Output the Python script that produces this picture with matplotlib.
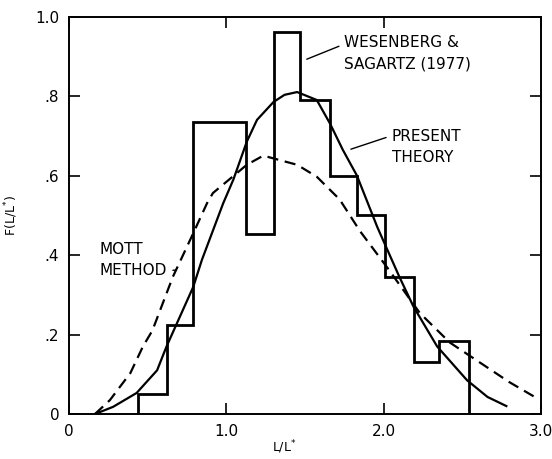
import numpy as np
import matplotlib.pyplot as plt

plt.rcParams['font.family'] = ['Liberation Sans Narrow', 'DejaVu Sans']

# Wesenberg & Sagartz (1977) histogram
bin_edges = [0.44, 0.62, 0.79, 1.125, 1.30, 1.47, 1.66, 1.83, 2.01, 2.19, 2.35, 2.54]
bin_heights = [0.05, 0.224, 0.735, 0.453, 0.96, 0.79, 0.60, 0.50, 0.345, 0.131, 0.184]

# present theory (solid)
theory_x = [0.165, 0.28, 0.43, 0.56, 0.62, 0.79, 0.845, 0.98, 1.045, 1.13, 1.195, 1.30,
            1.37, 1.45, 1.575, 1.66, 1.74, 1.83, 1.96, 2.10, 2.19, 2.34, 2.53, 2.66, 2.78]
theory_y = [0.0, 0.018, 0.053, 0.11, 0.17, 0.32, 0.388, 0.53, 0.59, 0.685, 0.74, 0.785,
            0.803, 0.81, 0.79, 0.73, 0.665, 0.60, 0.47, 0.345, 0.27, 0.17, 0.085, 0.043, 0.02]

# Mott method (dashed)
mott_x = [0.165, 0.26, 0.39, 0.47, 0.53, 0.66, 0.79, 0.877, 0.915, 1.07, 1.13, 1.235,
          1.45, 1.575, 1.72, 1.85, 2.02, 2.23, 2.42, 2.61, 2.80, 2.96]
mott_y = [0.0, 0.035, 0.103, 0.17, 0.21, 0.345, 0.455, 0.53, 0.556, 0.607, 0.627, 0.65,
          0.627, 0.597, 0.54, 0.46, 0.37, 0.254, 0.18, 0.13, 0.08, 0.043]

x_ticks = [0, 1.0, 2.0, 3.0]
x_labels = ['0', '1.0', '2.0', '3.0']
y_ticks = [0, 0.2, 0.4, 0.6, 0.8, 1.0]
y_labels = ['0', '.2', '.4', '.6', '.8', '1.0']

fig = plt.figure(figsize=(5.52, 4.59), dpi=100)
ax = fig.add_axes([0.125, 0.098, 0.855, 0.866])

ax.stairs(bin_heights, bin_edges, baseline=0, color='black', lw=2.0)
ax.plot(theory_x, theory_y, color='black', lw=1.6, solid_joinstyle='round')
ax.plot(mott_x, mott_y, color='black', lw=1.6, dashes=(5, 3))

line = dict(arrowstyle='-', color='black', lw=1.0)
ax.annotate('WESENBERG &\nSAGARTZ (1977)', xy=(1.495, 0.89), xytext=(1.75, 0.908),
            fontsize=11, va='center', ha='left', linespacing=1.5,
            arrowprops=dict(line, relpos=(0, 0.75)))
ax.annotate('PRESENT\nTHEORY', xy=(1.775, 0.664), xytext=(2.05, 0.673),
            fontsize=11, va='center', ha='left', linespacing=1.5,
            arrowprops=dict(line, relpos=(0, 0.8)))
ax.annotate('MOTT\nMETHOD', xy=(0.675, 0.362), xytext=(0.197, 0.388),
            fontsize=11, va='center', ha='left', linespacing=1.5,
            arrowprops=dict(line, relpos=(1, 0.2)))

ax.set_xlim(0, 3.0)
ax.set_ylim(0, 1.0)
ax.set_xticks(x_ticks)
ax.set_xticklabels(x_labels)
ax.set_yticks(y_ticks)
ax.set_yticklabels(y_labels)
ax.tick_params(direction='in', length=8, width=1.2, top=True, right=True,
               labelsize=11, pad=7)

ax.set_xlabel('L/L$^{*}$', fontsize=9)
ax.xaxis.set_label_coords(0.455, -0.062)
ax.set_ylabel('F(L/L$^{*}$)', fontsize=9)
ax.yaxis.set_label_coords(-0.104, 0.5)

for s in ax.spines.values():
    s.set_linewidth(1.4)

fig.savefig('out.png', dpi=100)
